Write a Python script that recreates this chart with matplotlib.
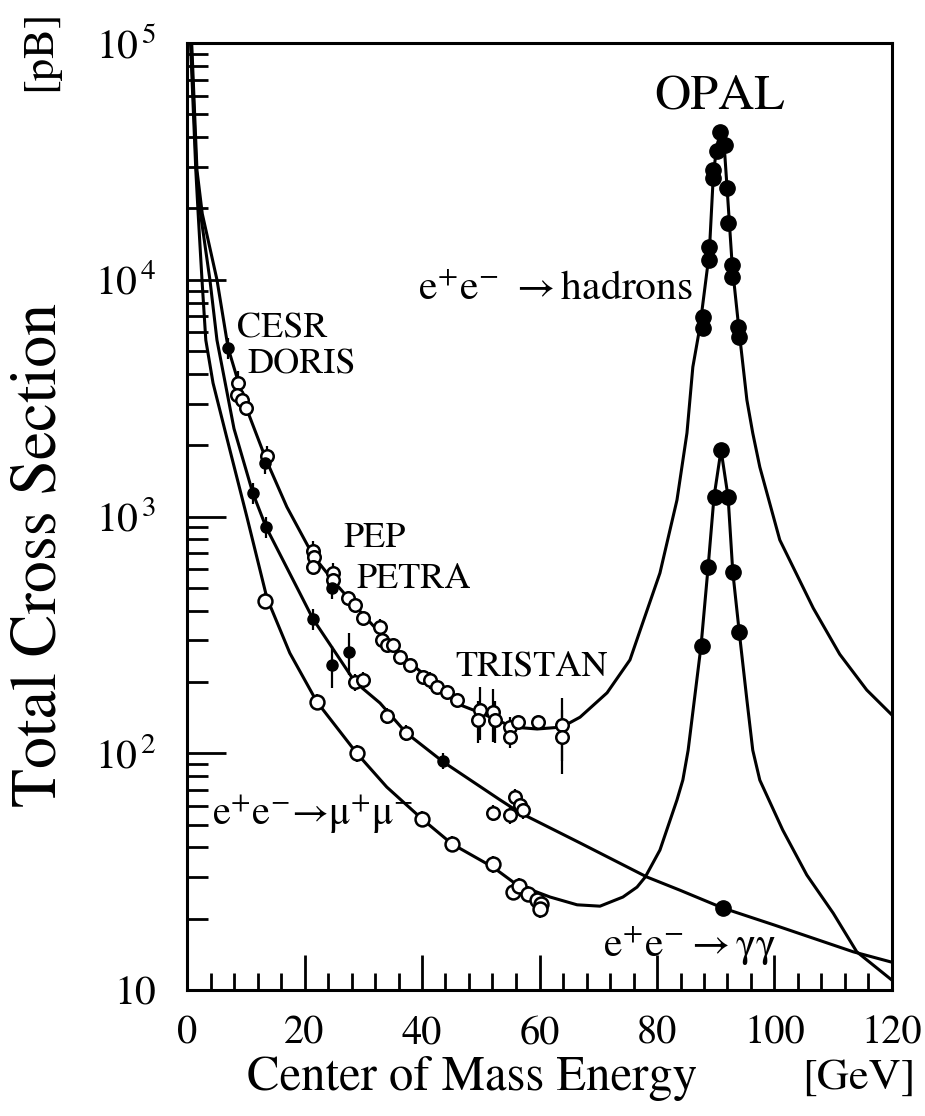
import matplotlib
matplotlib.use('Agg')
import matplotlib.pyplot as plt
from matplotlib.ticker import LogLocator, MultipleLocator, NullFormatter, FixedLocator

plt.rcParams['font.family'] = ['STIXGeneral', 'DejaVu Serif']
plt.rcParams['mathtext.fontset'] = 'stix'

# theory curves
had_curve_x = [0.8, 1.7, 2.6, 5.1, 7.0, 9.9, 13.5, 17.0, 21.5, 25.2, 30.0, 36.3, 42.6, 46.5, 50.0,
               55.5, 59.6, 63.8, 66.9, 71.5, 75.4, 77.3, 80.5, 83.4, 85.1, 86.1, 87.3, 88.9, 89.6,
               90.2, 90.8, 91.4, 91.9, 92.8, 94.0, 95.3, 96.3, 97.5, 100.9, 106.6, 111.1, 115.7, 120.0]
had_curve_y = [1e5, 29000, 19000, 10000, 5150, 2960, 1730, 1097, 681, 524, 384, 260, 194, 160, 148,
               129, 126.6, 129, 142, 180, 248, 340, 577, 1174, 2253, 4280, 6310, 12970, 28000,
               37000, 41500, 38000, 25000, 11500, 6000, 3105, 2250, 1618, 796, 410, 262, 185, 145]

mm_curve_x = [0.6, 1.5, 1.9, 2.55, 3.2, 4.43, 7.3, 10.2, 13.6, 17.5, 22.1, 28.9, 34.0, 40.0, 45.1,
              52.1, 56.0, 61.8, 66.4, 70.3, 74.2, 76.6, 78.0, 80.5, 83.4, 84.4, 85.3, 87.5, 88.7,
              89.7, 90.9, 92.1, 92.9, 94.0, 95.3, 96.3, 97.5, 101.4, 105.5, 110.0, 114.0, 120.0]
mm_curve_y = [1e5, 29000, 19000, 10000, 5560, 3664, 1910, 995, 453, 265, 165, 100, 72, 52.8, 41.4,
              33.0, 28.0, 24.7, 22.9, 22.6, 24.7, 27.2, 30.0, 39.0, 63.5, 77.1, 103, 285, 612,
              1208, 1910, 1208, 583, 325, 168, 103, 77, 47.4, 30.6, 21.1, 14.5, 11.0]

gg_curve_x = [0.7, 1.6, 2.3, 3.9, 5.1, 8.0, 11.2, 13.45, 19.2, 21.45, 28.6, 32.85, 37.3, 43.6,
              53.3, 56.7, 66.9, 78.3, 83.9, 91.2, 100.0, 113.4, 120.0]
gg_curve_y = [1e5, 29000, 19000, 10000, 5560, 2350, 1257, 903, 475, 369, 200, 163, 122, 92,
              63.5, 56.0, 41.8, 30.0, 26.4, 22.2, 18.8, 14.5, 13.1]

# measurements
had_open_x = [8.7, 8.5, 9.4, 10.0, 13.6, 21.4, 21.6, 21.4, 24.9, 24.9, 27.4, 28.6, 30.0, 32.9, 33.2,
              34.0, 35.1, 36.3, 38.0, 40.2, 41.4, 42.6, 44.3, 46.0, 49.9, 49.5, 52.1, 52.4, 55.0,
              55.0, 56.3, 59.7, 63.8, 63.8]
had_open_y = [3664, 3260, 3105, 2872, 1803, 715, 674, 612, 577, 539, 453, 423, 373, 341, 301,
              287, 287, 255, 236, 210, 204, 190, 181, 168, 152, 138, 149, 138, 129,
              117, 136, 136, 132, 117]
had_open_err = [0.12, 0.05, 0.05, 0.05, 0.1, 0.1, 0.05, 0.05, 0.1, 0.05, 0.05, 0.05, 0.05, 0.08, 0.05,
                0.05, 0.05, 0.05, 0.05, 0.05, 0.08, 0.05, 0.05, 0.05, 0.25, 0.2, 0.25, 0.2, 0.1,
                0.1, 0.05, 0.05, 0.3, 0.3]
had_fill_x = [7.0, 13.3, 24.7]
had_fill_y = [5150, 1683, 499]

gg_fill_x = [11.2, 13.45, 21.45, 24.7, 27.6, 43.6]
gg_fill_y = [1257, 903, 369, 236, 268, 93]
gg_fill_err = [0.1, 0.1, 0.1, 0.2, 0.2, 0.08]
gg_open_x = [28.6, 30.0, 34.0, 37.3, 52.1, 55.0, 55.8, 56.7, 57.2]
gg_open_y = [200, 204, 144, 122, 56.0, 54.8, 65.3, 60.4, 57.6]

mm_open_x = [13.3, 22.1, 28.9, 40.0, 45.1, 52.1, 55.5, 56.5, 58.0, 59.5, 60.2, 60.0]
mm_open_y = [440, 165, 100, 52.8, 41.4, 34.0, 26.0, 27.5, 25.5, 24.0, 23.0, 22.0]

opal_had_x = [87.8, 87.8, 88.85, 88.85, 89.6, 89.6, 90.2, 90.7, 91.5, 91.9, 92.1, 92.8, 92.8, 93.8, 94.0]
opal_had_y = [6960, 6250, 13740, 12110, 29100, 26900, 35000, 42000, 37000, 24400, 17380, 11540, 10280, 6310, 5730]
opal_mm_x = [87.6, 88.7, 89.8, 90.9, 92.1, 92.9, 94.0]
opal_mm_y = [285, 612, 1208, 1910, 1208, 583, 325]
opal_gg_x = [91.2]
opal_gg_y = [22.2]

fig = plt.figure(figsize=(9.25, 11.16), dpi=100)
ax = fig.add_axes([187/925, 1-990/1116, (892-187)/925, (990-43)/1116])
ax.set_yscale('log')
ax.set_xlim(0, 120)
ax.set_ylim(10, 1e5)

for cx, cy in [(had_curve_x, had_curve_y), (mm_curve_x, mm_curve_y), (gg_curve_x, gg_curve_y)]:
    ax.plot(cx, cy, color='black', lw=2.2, solid_joinstyle='round')

ax.errorbar(had_open_x, had_open_y, yerr=[e*y for e, y in zip(had_open_err, had_open_y)],
            fmt='o', mfc='white', mec='black', mew=1.8, ms=9, ecolor='black', elinewidth=1.6)
ax.errorbar(had_fill_x, had_fill_y, yerr=[0.1*y for y in had_fill_y],
            fmt='o', color='black', ms=8, elinewidth=1.6)
ax.errorbar(gg_fill_x, gg_fill_y, yerr=[e*y for e, y in zip(gg_fill_err, gg_fill_y)],
            fmt='o', color='black', ms=8, elinewidth=1.6)
ax.errorbar(gg_open_x, gg_open_y, yerr=[0.08*y for y in gg_open_y],
            fmt='o', mfc='white', mec='black', mew=1.8, ms=9, ecolor='black', elinewidth=1.6)
ax.errorbar(mm_open_x, mm_open_y, yerr=[0.08*y for y in mm_open_y],
            fmt='o', mfc='white', mec='black', mew=1.8, ms=10, ecolor='black', elinewidth=1.6)
ax.plot(opal_had_x, opal_had_y, 'o', color='black', ms=11)
ax.plot(opal_mm_x, opal_mm_y, 'o', color='black', ms=11)
ax.plot(opal_gg_x, opal_gg_y, 'o', color='black', ms=11)

# axes / ticks
for s in ax.spines.values():
    s.set_linewidth(2.2)
ax.yaxis.set_major_locator(FixedLocator([10, 100, 1000, 1e4, 1e5]))
ax.yaxis.set_minor_locator(LogLocator(base=10, subs=range(2, 10)))
ax.yaxis.set_minor_formatter(NullFormatter())
ax.set_yticklabels(['10', r'10$^{\,2}$', r'10$^{\,3}$', r'10$^{\,4}$', r'10$^{\,5}$'])
ax.xaxis.set_major_locator(MultipleLocator(20))
ax.xaxis.set_minor_locator(MultipleLocator(4))
ax.tick_params(axis='y', which='major', direction='in', length=28, width=2, labelsize=30, pad=22)
ax.tick_params(axis='y', which='minor', direction='in', length=15, width=2)
ax.tick_params(axis='x', which='major', direction='in', length=25, width=2, labelsize=29, pad=18)
ax.tick_params(axis='x', which='minor', direction='in', length=12, width=2)

# labels
ax.text(90.7, 53000, 'OPAL', fontsize=36, ha='center', va='baseline')
ax.text(39.3, 8200, r'e$^{+}$e$^{-}$ $\rightarrow$hadrons', fontsize=30, va='baseline')
ax.text(8.5, 5730, 'CESR', fontsize=26, va='baseline')
ax.text(10.2, 4037, 'DORIS', fontsize=26, va='baseline')
ax.text(26.6, 743, 'PEP', fontsize=26, va='baseline')
ax.text(28.9, 499, 'PETRA', fontsize=26, va='baseline')
ax.text(45.6, 214, 'TRISTAN', fontsize=26, va='baseline')
ax.text(4.3, 50, 'e$^{+}$e$^{-}$→μ$^{+}$μ$^{-}$', fontsize=29, va='baseline')
ax.text(70.8, 13.8, r'e$^{+}$e$^{-}$$\rightarrow$$\mathrm{\gamma\gamma}$', fontsize=30, va='baseline')

fig.text(40/925, 0.503, 'Total Cross Section', rotation=90, fontsize=46, ha='center', va='center')
fig.text(40/925, 0.955, '[pB]', rotation=90, fontsize=32, ha='center', va='center')
fig.text(0.51, 0.034, 'Center of Mass Energy', fontsize=35, ha='center', va='center')
fig.text(0.99, 0.034, '[GeV]', fontsize=32, ha='right', va='center')

fig.savefig('out.png', dpi=100)
